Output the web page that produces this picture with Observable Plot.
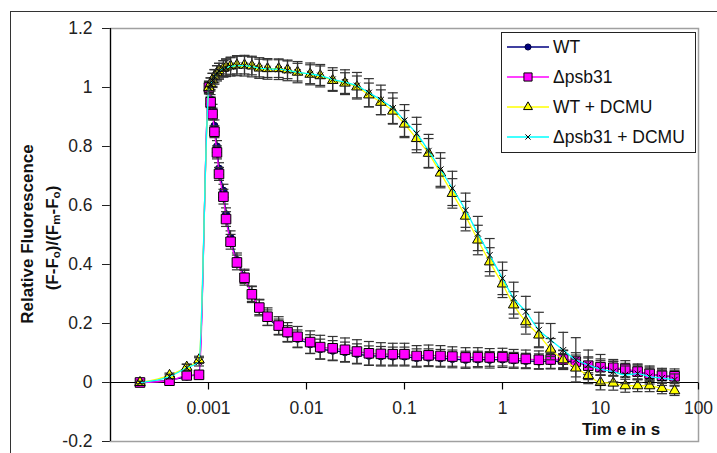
<!DOCTYPE html>
<html><head><meta charset="utf-8">
<script src="https://cdn.jsdelivr.net/npm/d3@7"></script>
<script src="https://cdn.jsdelivr.net/npm/@observablehq/plot@0.6"></script>
<style>
html,body{margin:0;padding:0;background:#fff;}
#wrap{position:relative;width:717px;height:453px;overflow:hidden;font-family:"Liberation Sans",Arial,sans-serif;color:#222;}
#wrap svg.plot{position:absolute;left:0;top:0;}
.outer{position:absolute;left:10px;top:11px;width:900px;height:600px;border-top:1.5px solid #333;border-left:1.5px solid #333;pointer-events:none;}
.ttl{position:absolute;font-weight:bold;font-size:17px;line-height:1;white-space:nowrap;color:#111;}
.rot{transform:translate(-50%,-50%) rotate(-90deg);}
.ttl sub{font-size:0.68em;line-height:0;vertical-align:-0.25em;}
#legend{position:absolute;left:501px;top:32px;width:193px;height:119px;border:1px solid #222;background:#fff;}
</style></head>
<body><div id="wrap"></div>
<script>
// ---- data (time in s, relative fluorescence) ----
const time = [0.0002, 0.0004, 0.0006, 0.0008,
  0.00101, 0.00105, 0.0011, 0.00115, 0.00122, 0.00128, 0.00142, 0.00151, 0.00168, 0.00195, 0.00233, 0.00277, 0.0033, 0.004, 0.0052,
  0.0064, 0.0081, 0.0109, 0.0138, 0.0185, 0.0247, 0.0327, 0.0433, 0.0574, 0.076, 0.1, 0.133, 0.176, 0.233, 0.308, 0.42, 0.56, 0.74,
  1.0, 1.3, 1.73, 2.35, 3.1, 4.16, 5.6, 7.5, 10, 13.5, 17.9, 23.9, 31.7, 42.4, 57];

const wt = [0, 0.008, 0.02, 0.03,
  1.0, 0.96, 0.925, 0.87, 0.80, 0.725, 0.65, 0.57, 0.49, 0.415, 0.36, 0.30, 0.255, 0.22, 0.188,
  0.165, 0.148, 0.130, 0.113, 0.108, 0.103, 0.097, 0.091, 0.089, 0.088, 0.088, 0.083, 0.084, 0.082, 0.080, 0.077, 0.078, 0.077,
  0.078, 0.075, 0.073, 0.071, 0.072, 0.072, 0.068, 0.058, 0.050, 0.048, 0.042, 0.034, 0.030, 0.022, 0.020];
const wtErr = [0.004, 0.006, 0.008, 0.01,
  0.015, 0.016, 0.018, 0.02, 0.02, 0.02, 0.022, 0.022, 0.024, 0.024, 0.024, 0.025, 0.025, 0.026, 0.027,
  0.028, 0.03, 0.032, 0.034, 0.034, 0.034, 0.034, 0.033, 0.033, 0.032, 0.032, 0.031, 0.03, 0.03, 0.03, 0.029, 0.028, 0.028,
  0.027, 0.027, 0.026, 0.026, 0.026, 0.026, 0.025, 0.025, 0.024, 0.024, 0.023, 0.022, 0.022, 0.021, 0.02];

const psb31 = [0, 0.006, 0.024, 0.026,
  1.0, 0.95, 0.91, 0.85, 0.78, 0.707, 0.63, 0.554, 0.477, 0.407, 0.355, 0.299, 0.254, 0.223, 0.193,
  0.171, 0.155, 0.137, 0.120, 0.116, 0.111, 0.105, 0.099, 0.097, 0.096, 0.096, 0.090, 0.092, 0.090, 0.088, 0.085, 0.086, 0.085,
  0.086, 0.082, 0.080, 0.077, 0.078, 0.078, 0.071, 0.057, 0.052, 0.050, 0.046, 0.037, 0.030, 0.023, 0.021];
const psb31Err = [0.004, 0.008, 0.01, 0.01,
  0.015, 0.018, 0.02, 0.02, 0.022, 0.022, 0.025, 0.025, 0.025, 0.025, 0.025, 0.028, 0.028, 0.03, 0.03,
  0.032, 0.035, 0.038, 0.04, 0.04, 0.04, 0.04, 0.04, 0.038, 0.037, 0.037, 0.035, 0.035, 0.035, 0.033, 0.033, 0.032, 0.03,
  0.03, 0.03, 0.03, 0.03, 0.03, 0.03, 0.03, 0.03, 0.028, 0.028, 0.028, 0.026, 0.026, 0.025, 0.025];

const wtDcmu = [0, 0.024, 0.052, 0.077,
  1.0, 1.013, 1.026, 1.038, 1.05, 1.057, 1.065, 1.069, 1.073, 1.076, 1.076, 1.073, 1.066, 1.064, 1.064,
  1.060, 1.052, 1.045, 1.040, 1.024, 1.015, 1.002, 0.975, 0.950, 0.920, 0.876, 0.827, 0.777, 0.710, 0.641, 0.564, 0.483, 0.409,
  0.334, 0.263, 0.206, 0.161, 0.113, 0.077, 0.049, 0.024, 0.0, -0.002, -0.011, -0.011, -0.011, -0.020, -0.028];
const wtDcmuErr = [0.004, 0.008, 0.01, 0.012,
  0.02, 0.02, 0.022, 0.022, 0.024, 0.025, 0.026, 0.027, 0.028, 0.03, 0.03, 0.03, 0.03, 0.03, 0.03,
  0.03, 0.03, 0.032, 0.033, 0.034, 0.035, 0.037, 0.04, 0.042, 0.044, 0.046, 0.048, 0.05, 0.05, 0.05, 0.05, 0.05, 0.048,
  0.046, 0.045, 0.042, 0.04, 0.036, 0.033, 0.03, 0.028, 0.025, 0.024, 0.022, 0.02, 0.02, 0.018, 0.016];

const psb31Dcmu = [0, 0.02, 0.05, 0.07,
  1.0, 1.01, 1.024, 1.036, 1.048, 1.055, 1.063, 1.067, 1.071, 1.074, 1.074, 1.071, 1.066, 1.063, 1.062,
  1.058, 1.052, 1.046, 1.040, 1.027, 1.018, 1.006, 0.982, 0.958, 0.930, 0.888, 0.844, 0.785, 0.722, 0.658, 0.584, 0.505, 0.432,
  0.353, 0.286, 0.240, 0.178, 0.144, 0.110, 0.077, 0.060, 0.045, 0.037, 0.026, 0.030, 0.020, 0.015, 0.009];
const psb31DcmuErr = [0.004, 0.008, 0.012, 0.014,
  0.022, 0.022, 0.024, 0.025, 0.026, 0.027, 0.028, 0.03, 0.032, 0.034, 0.035, 0.035, 0.035, 0.035, 0.035,
  0.035, 0.036, 0.037, 0.038, 0.04, 0.042, 0.045, 0.048, 0.05, 0.052, 0.054, 0.055, 0.056, 0.057, 0.058, 0.058, 0.058, 0.056,
  0.055, 0.054, 0.052, 0.06, 0.056, 0.06, 0.075, 0.05, 0.05, 0.035, 0.03, 0.03, 0.025, 0.025, 0.02];

const seriesNames = ["WT", "\u0394psb31", "WT + DCMU", "\u0394psb31 + DCMU"];
const yTicks = [-0.2, 0, 0.2, 0.4, 0.6, 0.8, 1, 1.2];
const yTickLabels = ["-0.2", "0", "0.2", "0.4", "0.6", "0.8", "1", "1.2"];
const xTicks = [0.001, 0.01, 0.1, 1, 10, 100];
const xTickLabels = ["0.001", "0.01", "0.1", "1", "10", "100"];

// ---- styles ----
const styles = [
  {values: wt, err: wtErr, line: "#000080", symbol: "circle", r: 3.6, fill: "#000080", stroke: "#000040"},
  {values: psb31, err: psb31Err, line: "#ff00ff", symbol: "square", r: 5.4, fill: "#ff00ff", stroke: "#000"},
  {values: wtDcmu, err: wtDcmuErr, line: "#ffff00", symbol: "triangle", r: 3.9, fill: "#ffff00", stroke: "#000"},
  {values: psb31Dcmu, err: psb31DcmuErr, line: "#00ffff", symbol: "times", r: 2.9, fill: "none", stroke: "#000"}
];

const capSymbol = {draw(ctx) { ctx.moveTo(-5, 0); ctx.lineTo(5, 0); }};
const vTickSymbol = {draw(ctx) { ctx.moveTo(0, 0); ctx.lineTo(0, 7); }};

const marks = [
  Plot.frame({stroke: "#a0a0a0", strokeWidth: 1.5}),
  Plot.ruleY([0], {stroke: "#000", strokeWidth: 1}),
  Plot.ruleX([1e-4], {stroke: "#000", strokeWidth: 1.2}),
  Plot.dot(xTicks, {x: d => d, y: () => 0, symbol: vTickSymbol, stroke: "#000", fill: "none", strokeWidth: 1.2}),
  Plot.text(xTicks, {x: d => d, y: () => 0, text: (d, i) => xTickLabels[i], dy: 26, fontSize: 17.5, fill: "#222"})
];

styles.forEach((s, k) => {
  const rows = time.map((t, i) => ({t, v: s.values[i], lo: s.values[i] - s.err[i], hi: s.values[i] + s.err[i]}));
  marks.push(
    Plot.line(rows, {x: "t", y: "v", stroke: s.line, strokeWidth: 1.3, curve: "monotone-x"}),
    Plot.ruleX(rows, {x: "t", y1: "lo", y2: "hi", stroke: "#333", strokeWidth: 1.2}),
    Plot.dot(rows, {x: "t", y: "hi", symbol: capSymbol, fill: "none", stroke: "#333", strokeWidth: 1.2}),
    Plot.dot(rows, {x: "t", y: "lo", symbol: capSymbol, fill: "none", stroke: "#333", strokeWidth: 1.2}),
    Plot.dot(rows, {x: "t", y: "v", symbol: s.symbol, r: s.r, fill: s.fill, stroke: s.stroke, strokeWidth: 1})
  );
});

const chart = Plot.plot({
  width: 717, height: 453,
  marginLeft: 110, marginRight: 19, marginTop: 28, marginBottom: 12,
  style: {background: "transparent", fontFamily: "Liberation Sans, Arial, sans-serif", fontSize: "17.5px", color: "#222"},
  x: {type: "log", domain: [1e-4, 100], axis: null},
  y: {domain: [-0.2, 1.2], ticks: yTicks, tickSize: 8, tickPadding: 10,
      tickFormat: d => yTickLabels[yTicks.findIndex(v => Math.abs(v - d) < 1e-9)], label: null},
  marks
});

const wrap = document.getElementById("wrap");
wrap.appendChild(chart);

// titles
const t1 = document.createElement("div");
t1.className = "ttl rot"; t1.style.left = "27px"; t1.style.top = "234px";
t1.textContent = "Relative Fluorescence";
wrap.appendChild(t1);
const t2 = document.createElement("div");
t2.className = "ttl rot"; t2.style.left = "52px"; t2.style.top = "238px";
t2.innerHTML = "(F-F<sub>o</sub>)/(F<sub>m</sub>-F<sub>o</sub>)";
wrap.appendChild(t2);
const t3 = document.createElement("div");
t3.className = "ttl"; t3.style.left = "582px"; t3.style.top = "421px";
t3.textContent = "Tim e in s";
wrap.appendChild(t3);

// legend
const leg = document.createElement("div");
leg.id = "legend";
wrap.appendChild(leg);
const lsvg = d3.select(leg).append("svg").attr("width", 193).attr("height", 119);
const symMap = {circle: d3.symbolCircle, square: d3.symbolSquare, triangle: d3.symbolTriangle, times: d3.symbolTimes};
const rowY = [14, 44, 74, 104];
seriesNames.forEach((name, i) => {
  const s = styles[i];
  const g = lsvg.append("g").attr("transform", `translate(0,${rowY[i]})`);
  g.append("line").attr("x1", 5).attr("x2", 47).attr("y1", 0).attr("y2", 0).attr("stroke", s.line).attr("stroke-width", 1.3);
  g.append("path").attr("transform", "translate(26,0)")
    .attr("d", d3.symbol(symMap[s.symbol], Math.PI * (s.r * 0.85) ** 2)())
    .attr("fill", s.fill).attr("stroke", s.stroke).attr("stroke-width", 1);
  g.append("text").attr("x", 51).attr("y", 0).attr("dy", "0.35em")
    .attr("font-size", "17.5px").attr("font-family", "Liberation Sans, Arial, sans-serif").attr("fill", "#111")
    .text(name);
});

const outer = document.createElement("div");
outer.className = "outer";
wrap.appendChild(outer);
</script></body></html>
